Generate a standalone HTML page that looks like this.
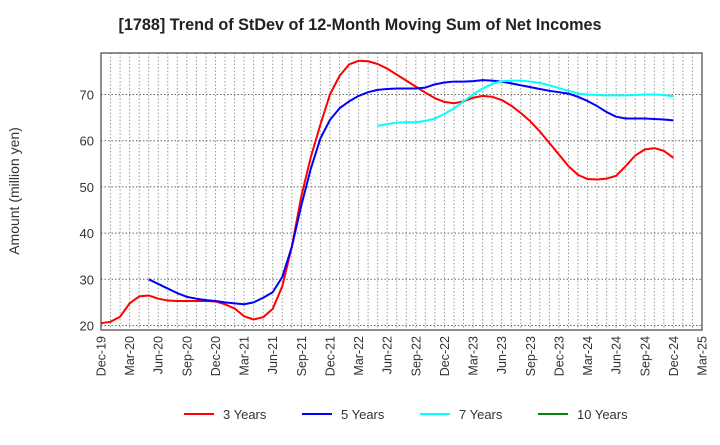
<!DOCTYPE html>
<html><head><meta charset="utf-8"><style>
body{margin:0;background:#fff;font-family:"Liberation Sans",Arial,sans-serif}
svg text{font-family:"Liberation Sans",Arial,sans-serif}
</style></head><body>
<svg id="chart" width="720" height="440" xmlns="http://www.w3.org/2000/svg">
<text x="360" y="30" text-anchor="middle" font-size="16.2" font-weight="bold" fill="#222">[1788]  Trend of StDev of 12-Month Moving Sum of Net Incomes</text>
<text transform="translate(19,191) rotate(-90)" text-anchor="middle" font-size="14" fill="#333">Amount (million yen)</text>
<g id="grid"></g><g id="series"></g><g id="axes"></g>
<g font-size="13" fill="#333">
<line x1="184" y1="414" x2="214" y2="414" stroke="#f00" stroke-width="2"/><text x="223" y="419">3 Years</text>
<line x1="302" y1="414" x2="332" y2="414" stroke="#00f" stroke-width="2"/><text x="341" y="419">5 Years</text>
<line x1="420" y1="414" x2="450" y2="414" stroke="#0ff" stroke-width="2"/><text x="459" y="419">7 Years</text>
<line x1="538" y1="414" x2="568" y2="414" stroke="#080" stroke-width="2"/><text x="577" y="419">10 Years</text>
</g>
</svg>
<script>
const xTickLabels=["Dec-19","Mar-20","Jun-20","Sep-20","Dec-20","Mar-21","Jun-21","Sep-21","Dec-21","Mar-22","Jun-22","Sep-22","Dec-22","Mar-23","Jun-23","Sep-23","Dec-23","Mar-24","Jun-24","Sep-24","Dec-24","Mar-25"];
const yTicks=[20,30,40,50,60,70];
const s3Start=0;
const s3=[20.5,20.8,21.9,24.8,26.3,26.5,25.8,25.4,25.3,25.3,25.3,25.3,25.2,24.6,23.7,22,21.3,21.8,23.6,28.5,37,48,56.5,63.5,70,74,76.5,77.3,77.2,76.6,75.6,74.3,73,71.7,70.4,69.2,68.4,68.1,68.5,69.3,69.7,69.5,68.8,67.6,66,64.2,62,59.5,57,54.5,52.6,51.7,51.6,51.8,52.4,54.5,56.8,58.1,58.4,57.8,56.3];
const s5Start=5;
const s5=[30,29,28,27,26.2,25.8,25.5,25.3,25,24.8,24.6,25,26,27.2,30.5,37,46,54,60.5,64.5,67,68.5,69.7,70.5,71,71.2,71.3,71.3,71.3,71.5,72.2,72.6,72.8,72.8,72.9,73.1,73,72.8,72.4,72,71.6,71.2,70.8,70.5,70.2,69.5,68.6,67.5,66.2,65.2,64.8,64.8,64.8,64.7,64.6,64.4];
const s7Start=29;
const s7=[63.2,63.6,63.9,64,64,64.3,64.8,65.8,67,68.5,70,71.3,72.3,72.9,73,73,72.8,72.5,72,71.4,70.8,70.2,70,69.9,69.8,69.8,69.8,69.9,70,70,69.9,69.6];
const L=101,R=702,T=53,B=330;
const xm=i=>L+i*(R-L)/63;
const y=v=>325.5-(v-20)*4.62;
const NS="http://www.w3.org/2000/svg";
function el(p,t,a){const e=document.createElementNS(NS,t);for(const k in a)e.setAttribute(k,a[k]);p.appendChild(e);return e;}
const grid=document.getElementById('grid'),axes=document.getElementById('axes'),ser=document.getElementById('series');
for(let i=1;i<63;i++){const g=el(grid,'line',{x1:xm(i),x2:xm(i),y1:T,y2:B,stroke:'#999','stroke-dasharray':'1.5,2','stroke-width':1});
}
yTicks.forEach(v=>{const g=el(grid,'line',{x1:L,x2:R,y1:y(v),y2:y(v),stroke:'#666','stroke-dasharray':'1.5,2','stroke-width':1});

const t=el(axes,'text',{x:L-7,y:y(v)+5,'text-anchor':'end','font-size':13,fill:'#333'});t.textContent=v;
});
const fr=el(axes,'rect',{x:L,y:T,width:R-L,height:B-T,fill:'none',stroke:'#444','stroke-width':1.2});

xTickLabels.forEach((s,i)=>{const x=xm(i*3);const t=el(axes,'text',{transform:`translate(${x+4.5},${B+6}) rotate(-90)`,'text-anchor':'end','font-size':12.5,fill:'#333'});t.textContent=s;
});
function line(arr,st,c,n){const p=el(ser,'polyline',{points:arr.map((v,i)=>xm(st+i)+','+y(v)).join(' '),fill:'none',stroke:c,'stroke-width':2,'stroke-linejoin':'round'});
}
line(s3,s3Start,'#f00','series-3-years');
line(s5,s5Start,'#00f','series-5-years');
line(s7,s7Start,'#0ff','series-7-years');
</script>
</body></html>
